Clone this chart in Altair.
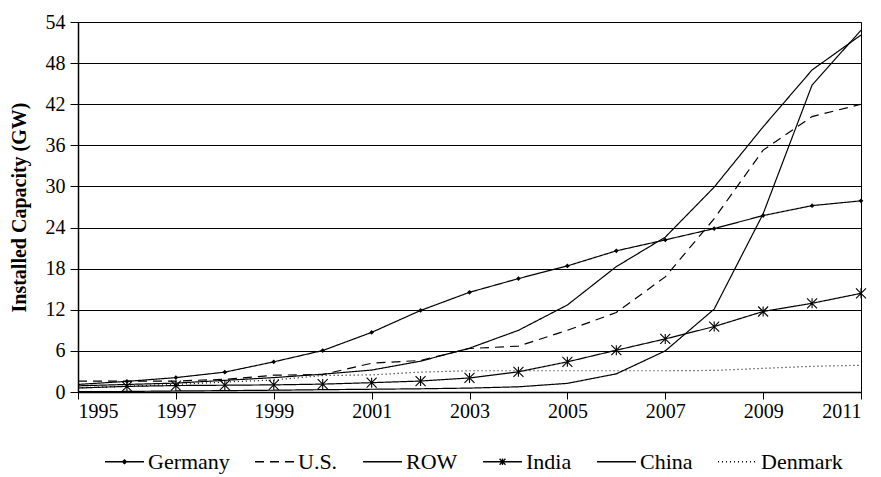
import altair as alt
import pandas as pd

years = list(range(1995, 2012))
series_names = ["Germany", "U.S.", "ROW", "India", "China", "Denmark"]

germany = [1.1, 1.55, 2.1, 2.9, 4.4, 6.05, 8.7, 11.9, 14.55, 16.55, 18.4, 20.6, 22.2, 23.85, 25.75, 27.2, 27.9]
us = [1.6, 1.6, 1.6, 1.85, 2.45, 2.55, 4.2, 4.6, 6.35, 6.7, 9.0, 11.6, 16.8, 25.3, 35.3, 40.2, 42.0]
row_ = [0.9, 1.1, 1.3, 1.7, 2.1, 2.6, 3.2, 4.5, 6.4, 9.0, 12.7, 18.3, 22.6, 29.9, 38.7, 47.0, 52.1]
india = [0.58, 0.82, 0.94, 0.99, 1.04, 1.15, 1.36, 1.6, 2.05, 2.95, 4.4, 6.1, 7.75, 9.55, 11.75, 12.95, 14.4]
china = [0.04, 0.08, 0.15, 0.2, 0.26, 0.34, 0.4, 0.47, 0.57, 0.76, 1.26, 2.65, 6.0, 12.1, 26.0, 44.8, 52.8]
denmark = [0.6, 0.85, 1.1, 1.45, 1.75, 2.4, 2.5, 2.9, 3.1, 3.1, 3.1, 3.1, 3.1, 3.15, 3.45, 3.75, 3.9]

x_ticks = [1995, 1997, 1999, 2001, 2003, 2005, 2007, 2009, 2011]
y_ticks = [0, 6, 12, 18, 24, 30, 36, 42, 48, 54]

rows = []
for name, vals in zip(series_names, [germany, us, row_, india, china, denmark]):
    for yr, v in zip(years, vals):
        rows.append({"year": yr, "series": name, "value": v})
df = pd.DataFrame(rows)

FONT = "'Liberation Serif', 'Times New Roman', Times, serif"

dash_range = [[1, 0], [9, 6], [1, 0], [1, 0], [1, 0], [1, 3]]
line_sym = "M-1,0H1"
legend_paths = [
    "M-1,0H1M-0.1,0L0,-0.1L0.1,0L0,0.1Z",
    line_sym,
    line_sym,
    "M-1,0H1M-0.15,-0.15L0.15,0.15M-0.15,0.15L0.15,-0.15M0,-0.17V0.17",
    line_sym,
    line_sym,
]
star_path = "M-1,-1L1,1M-1,1L1,-1M0,-1V1"

legend = alt.Legend(
    title=None, orient="none", direction="horizontal",
    legendX=26, legendY=419,
    symbolSize=1521, symbolStrokeWidth=1.3, symbolStrokeColor="black",
    labelFont=FONT, labelFontSize=22, labelColor="black",
    labelOffset=3, columnPadding=22,
)

x_enc = alt.X("year:Q",
              scale=alt.Scale(domain=[1995, 2011], nice=False, zero=False),
              axis=alt.Axis(values=x_ticks, format="d", title=None, grid=False,
                            tickSize=7, labelPadding=2))
y_enc = alt.Y("value:Q",
              scale=alt.Scale(domain=[0, 54], nice=False),
              axis=alt.Axis(values=y_ticks, title="Installed Capacity (GW)", grid=True,
                            tickSize=8, labelPadding=5, titleX=-59, titleY=185,
                            titleAngle=270, titleAlign="center", titleBaseline="middle"))

base = alt.Chart(df)

lines = base.mark_line(strokeWidth=1.2, color="black").encode(
    x=x_enc, y=y_enc,
    strokeDash=alt.StrokeDash("series:N",
                              scale=alt.Scale(domain=series_names, range=dash_range),
                              legend=legend),
)

legend_shapes = base.transform_filter("datum.year < 0").mark_point(
    filled=False, color="black", strokeWidth=1.3, opacity=1
).encode(
    x=x_enc, y=y_enc,
    shape=alt.Shape("series:N",
                    scale=alt.Scale(domain=series_names, range=legend_paths),
                    legend=legend),
)

germany_pts = base.transform_filter("datum.series == 'Germany' && datum.year > 1995").mark_point(
    shape="diamond", filled=True, size=22, color="black", opacity=1
).encode(x=x_enc, y=y_enc)

india_pts = base.transform_filter("datum.series == 'India' && datum.year > 1995").mark_point(
    shape=star_path, filled=False, size=100, strokeWidth=1.1, color="black", opacity=1
).encode(x=x_enc, y=y_enc)

chart = alt.layer(lines, legend_shapes, germany_pts, india_pts).properties(
    width=783, height=370,
    autosize=alt.AutoSizeParams(type="none"),
    padding={"left": 70, "top": 14, "right": 10, "bottom": 85},
).configure_view(
    stroke="black", strokeWidth=1
).configure_axis(
    domainColor="black", domainWidth=1.5, tickColor="black", tickWidth=1,
    gridColor="black", gridWidth=1, gridOpacity=1,
    labelFont=FONT, labelFontSize=20, labelColor="black",
    titleFont=FONT, titleFontSize=20, titleFontWeight="bold", titleColor="black",
)

chart.save("out.html", embed_options={"renderer": "svg", "actions": False})
